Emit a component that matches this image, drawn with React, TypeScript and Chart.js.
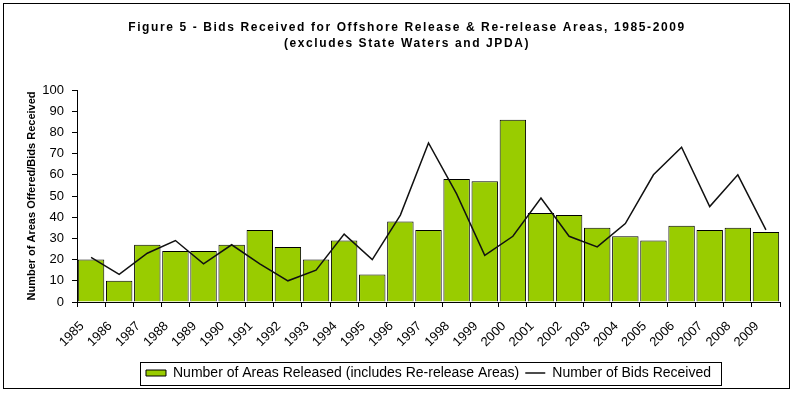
import React, { useEffect, useRef } from "react";
import { Chart, registerables } from "chart.js";

Chart.register(...registerables);

const years = ["1985","1986","1987","1988","1989","1990","1991","1992","1993","1994","1995","1996","1997","1998","1999","2000","2001","2002","2003","2004","2005","2006","2007","2008","2009"];
const areasReleased = [20,10,27,24,24,27,34,26,20,29,13,38,34,58,57,86,42,41,35,31,29,36,34,35,33];
const bidsReceived = [21,13,23,29,18,27,18,10,15,32,20,41,75,51,22,31,49,31,26,37,60,73,45,60,34];
const titleLines = ["Figure 5 - Bids Received for Offshore Release & Re-release Areas, 1985-2009", "(excludes State Waters and JPDA)"];
const yAxisTitle = "Number of Areas Offered/Bids Received";
const seriesNames = ["Number of Areas Released (includes Re-release Areas)", "Number of Bids Received"];

const FONT = "'Liberation Sans', Arial, sans-serif";

const titlePlugin = {
  id: "spacedTitle",
  afterDraw(chart: any) {
    const ctx = chart.ctx;
    ctx.save();
    ctx.fillStyle = "#000";
    ctx.font = `bold 12px ${FONT}`;
    (ctx as any).letterSpacing = "1.6px";
    ctx.textAlign = "center";
    ctx.textBaseline = "middle";
    titleLines.forEach((line, i) => {
      ctx.fillText(line, 407, 28 + i * 15.5);
    });
    ctx.restore();
  },
};

const framePlugin = {
  id: "frame",
  afterDraw(chart: any) {
    const ctx = chart.ctx;
    ctx.save();
    ctx.strokeStyle = "#000";
    ctx.lineWidth = 1;
    ctx.strokeRect(3.5, 3.5, 786, 385);
    const lg = chart.legend;
    if (lg && lg.legendHitBoxes && lg.legendHitBoxes.length) {
      const hb = lg.legendHitBoxes;
      const first = hb[0];
      const last = hb[hb.length - 1];
      const l = Math.round(first.left - 6) + 0.5;
      const r = Math.round(last.left + last.width + 10) + 0.5;
      const cy = first.top + first.height / 2;
      const t = Math.round(cy - 11.5) + 0.5;
      ctx.strokeRect(l, t, r - l, 23);
    }
    ctx.restore();
  },
};

export default function App() {
  const ref = useRef<HTMLCanvasElement | null>(null);
  useEffect(() => {
    if (!ref.current) return;
    Chart.defaults.font.family = FONT;
    Chart.defaults.color = "#000";
    const chart = new Chart(ref.current, {
      type: "bar",
      data: {
        labels: years,
        datasets: [
          {
            type: "bar",
            label: seriesNames[0],
            data: areasReleased,
            backgroundColor: "#99CC00",
            borderColor: "#000",
            borderWidth: 1,
            barPercentage: 0.94,
            categoryPercentage: 1,
            pointStyle: "rect",
            order: 2,
          } as any,
          {
            type: "line",
            label: seriesNames[1],
            data: bidsReceived,
            borderColor: "#111",
            backgroundColor: "#111",
            borderWidth: 1.5,
            pointRadius: 0,
            pointStyle: "line",
            tension: 0,
            fill: false,
            order: 1,
          } as any,
        ],
      },
      options: {
        responsive: false,
        animation: false,
        layout: { padding: { left: 16, right: 16, top: 90, bottom: 7 } },
        plugins: {
          title: { display: false },
          legend: {
            position: "bottom",
            fullSize: false,
            labels: {
              usePointStyle: true,
              pointStyleWidth: 20,
              boxHeight: 6,
              padding: 6,
              color: "#000",
              font: { family: FONT, size: 14 },
              sort: (a: any, b: any) => a.datasetIndex - b.datasetIndex,
            },
          },
          tooltip: { enabled: false },
        },
        scales: {
          x: {
            type: "category",
            grid: { display: true, drawOnChartArea: false, drawTicks: true, tickLength: 5, color: "#000", offset: true },
            border: { display: true, color: "#000", width: 1 },
            ticks: {
              autoSkip: false,
              maxRotation: 45,
              minRotation: 45,
              padding: 11.5,
              labelOffset: -9,
              color: "#000",
              font: { family: FONT, size: 13 },
            },
            afterFit(s: any) { s.height = 58; },
          },
          y: {
            type: "linear",
            position: "left",
            min: 0,
            max: 100,
            ticks: { stepSize: 10, padding: 8, color: "#000", font: { family: FONT, size: 13 } },
            grid: { display: true, drawOnChartArea: false, drawTicks: true, tickLength: 5, color: "#000" },
            border: { display: true, color: "#000", width: 1 },
            title: {
              display: true,
              text: yAxisTitle,
              color: "#000",
              font: { family: FONT, size: 11, weight: "bold" },
              padding: { top: 9, bottom: 0 },
            },
            afterFit(s: any) { s.width = 61; },
          },
        },
      } as any,
      plugins: [framePlugin, titlePlugin],
    });
    return () => chart.destroy();
  }, []);
  return (
    <div style={{ position: "absolute", left: 0, top: 0, width: 796, height: 397, background: "#fff" }}>
      <canvas ref={ref} width={796} height={397} style={{ display: "block" }} />
    </div>
  );
}
